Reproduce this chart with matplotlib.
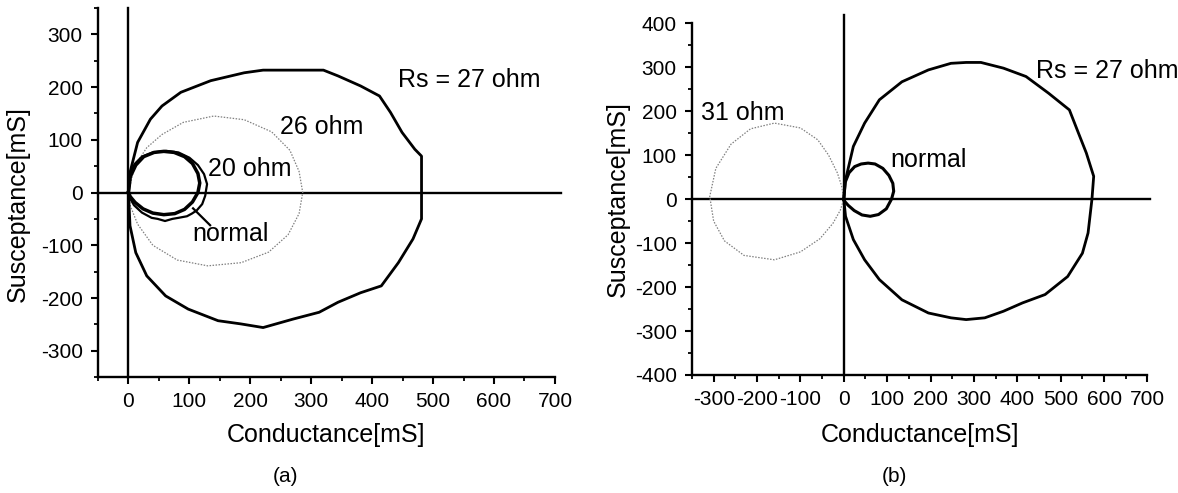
import matplotlib
matplotlib.use("Agg")
import matplotlib.pyplot as plt
from matplotlib.ticker import MultipleLocator

plt.rcParams["font.family"] = ["Liberation Sans", "DejaVu Sans"]
plt.rcParams["axes.unicode_minus"] = False

# ---- panel (a) data: conductance g [mS], susceptance b [mS] ----
a_27_g = [0, 2.5, 15, 36, 55, 86, 135, 190, 221, 270, 320, 344, 381, 412, 430, 449, 470, 481,
          481, 481, 467, 443, 415, 381, 344, 313, 270, 221, 184, 147, 98, 61, 30, 12, 2.5, 0]
a_27_b = [0, 38, 95, 139, 164, 190, 212, 227, 232, 232, 232, 221, 202, 183, 152, 114, 82, 69,
          0, -50, -88, -133, -177, -190, -208, -227, -240, -256, -249, -243, -221, -196, -158, -114, -63, 0]

a_26_g = [0, 10, 30, 55, 90, 140, 190, 235, 265, 280, 286, 280, 262, 230, 185, 130, 80, 40, 15, 3, 0]
a_26_b = [0, 50, 85, 110, 133, 145, 138, 115, 80, 40, 0, -40, -80, -113, -133, -139, -128, -100, -60, -25, 0]

a_20_g = [0, 2, 10, 22, 40, 62, 82, 100, 114, 124, 129, 127, 126, 121, 112, 104, 96, 82, 72, 60, 48, 38, 22, 9, 2, 0]
a_20_b = [0, 32, 54, 68, 76, 79, 76, 66, 52, 35, 16, 2, -6, -22, -34, -40, -45, -48, -50, -54, -50, -48, -38, -24, -10, 0]

a_norm_g = [0, 3, 12, 25, 42, 58, 75, 92, 105, 114, 117, 114, 105, 92, 76, 58, 40, 24, 11, 3, 0]
a_norm_b = [0, 30, 52, 68, 76, 78, 76, 68, 55, 36, 18, 0, -18, -32, -40, -42, -39, -31, -19, -8, 0]

# ---- panel (b) data ----
b_27_g = [0, 4, 22, 48, 82, 134, 195, 247, 282, 316, 368, 420, 472, 520, 541, 559, 576,
          572, 563, 550, 516, 464, 412, 368, 325, 282, 247, 195, 134, 82, 48, 22, 4, 0]
b_27_b = [0, 44, 120, 173, 226, 267, 294, 309, 311, 311, 298, 279, 241, 203, 150, 105, 52,
          0, -77, -123, -176, -217, -236, -255, -270, -274, -270, -259, -229, -183, -138, -92, -39, 0]

b_31_g = [0, -5, -15, -35, -60, -100, -160, -215, -260, -295, -309, -300, -275, -230, -160, -100, -55, -25, -8, 0]
b_31_b = [0, 30, 60, 100, 135, 162, 173, 160, 125, 70, 6, -50, -95, -128, -138, -120, -90, -55, -25, 0]

b_norm_g = [0, 3, 12, 25, 40, 56, 72, 90, 104, 113, 115, 110, 98, 80, 61, 42, 24, 10, 2, 0]
b_norm_b = [0, 38, 60, 74, 80, 82, 80, 70, 54, 36, 18, 0, -22, -35, -39, -36, -26, -14, -5, 0]

tick_fs = 15
lab_fs = 18
txt_fs = 18

fig = plt.figure(figsize=(11.78, 4.93), dpi=100)


def style_axes(ax, xlim, ylim):
    ax.set_xlim(*xlim)
    ax.set_ylim(*ylim)
    for side in ("top", "right"):
        ax.spines[side].set_visible(False)
    for side in ("left", "bottom"):
        ax.spines[side].set_linewidth(1.7)
    ax.xaxis.set_major_locator(MultipleLocator(100))
    ax.xaxis.set_minor_locator(MultipleLocator(50))
    ax.yaxis.set_major_locator(MultipleLocator(100))
    ax.yaxis.set_minor_locator(MultipleLocator(50))
    ax.tick_params(which="major", length=5, width=1.5, labelsize=tick_fs, pad=6)
    ax.tick_params(which="minor", length=3, width=1.3)
    ax.set_xlabel("Conductance[mS]", fontsize=lab_fs)
    ax.set_ylabel("Susceptance[mS]", fontsize=lab_fs)


# panel (a)
ax1 = fig.add_axes([0.0832, 0.235, 0.3879, 0.749])
style_axes(ax1, (-50, 700), (-350, 350))
ax1.plot([-50, 710], [0, 0], color="black", lw=1.7, clip_on=False, zorder=1)
ax1.plot([0, 0], [-350, 350], color="black", lw=1.7, clip_on=False, zorder=1)
ax1.plot(a_26_g, a_26_b, color="#808080", lw=0.9, ls=(0, (1.2, 1.2)))
ax1.plot(a_27_g, a_27_b, color="black", lw=2.0)
ax1.plot(a_20_g, a_20_b, color="black", lw=1.6)
ax1.plot(a_norm_g, a_norm_b, color="black", lw=2.5)
ax1.text(443, 214, "Rs = 27 ohm", fontsize=txt_fs, va="center")
ax1.text(248, 125, "26 ohm", fontsize=txt_fs, va="center")
ax1.text(131, 44, "20 ohm", fontsize=txt_fs, va="center")
ax1.plot([106, 134], [-30, -62], color="black", lw=1.6)
ax1.text(104, -78, "normal", fontsize=txt_fs, va="center")
ax1.xaxis.set_label_coords(0.5, -0.125)
ax1.yaxis.set_label_coords(-0.149, 0.47)

# panel (b)
ax2 = fig.add_axes([0.5874, 0.2394, 0.3867, 0.7133])
style_axes(ax2, (-350, 700), (-400, 400))
ax2.plot([-350, 705], [0, 0], color="black", lw=1.7, clip_on=False, zorder=1)
ax2.plot([0, 0], [-400, 418], color="black", lw=1.7, clip_on=False, zorder=1)
ax2.plot(b_31_g, b_31_b, color="#808080", lw=0.9, ls=(0, (1.2, 1.2)))
ax2.plot(b_27_g, b_27_b, color="black", lw=2.0)
ax2.plot(b_norm_g, b_norm_b, color="black", lw=2.2)
ax2.text(442, 292, "Rs = 27 ohm", fontsize=txt_fs, va="center")
ax2.text(-329, 195, "31 ohm", fontsize=txt_fs, va="center")
ax2.text(108, 88, "normal", fontsize=txt_fs, va="center")
ax2.xaxis.set_label_coords(0.5, -0.136)
ax2.yaxis.set_label_coords(-0.136, 0.5)

fig.text(285 / 1178, 1 - 476 / 493, "(a)", fontsize=15, ha="center", va="center")
fig.text(894 / 1178, 1 - 477 / 493, "(b)", fontsize=15, ha="center", va="center")

fig.savefig("out.png", dpi=100)
